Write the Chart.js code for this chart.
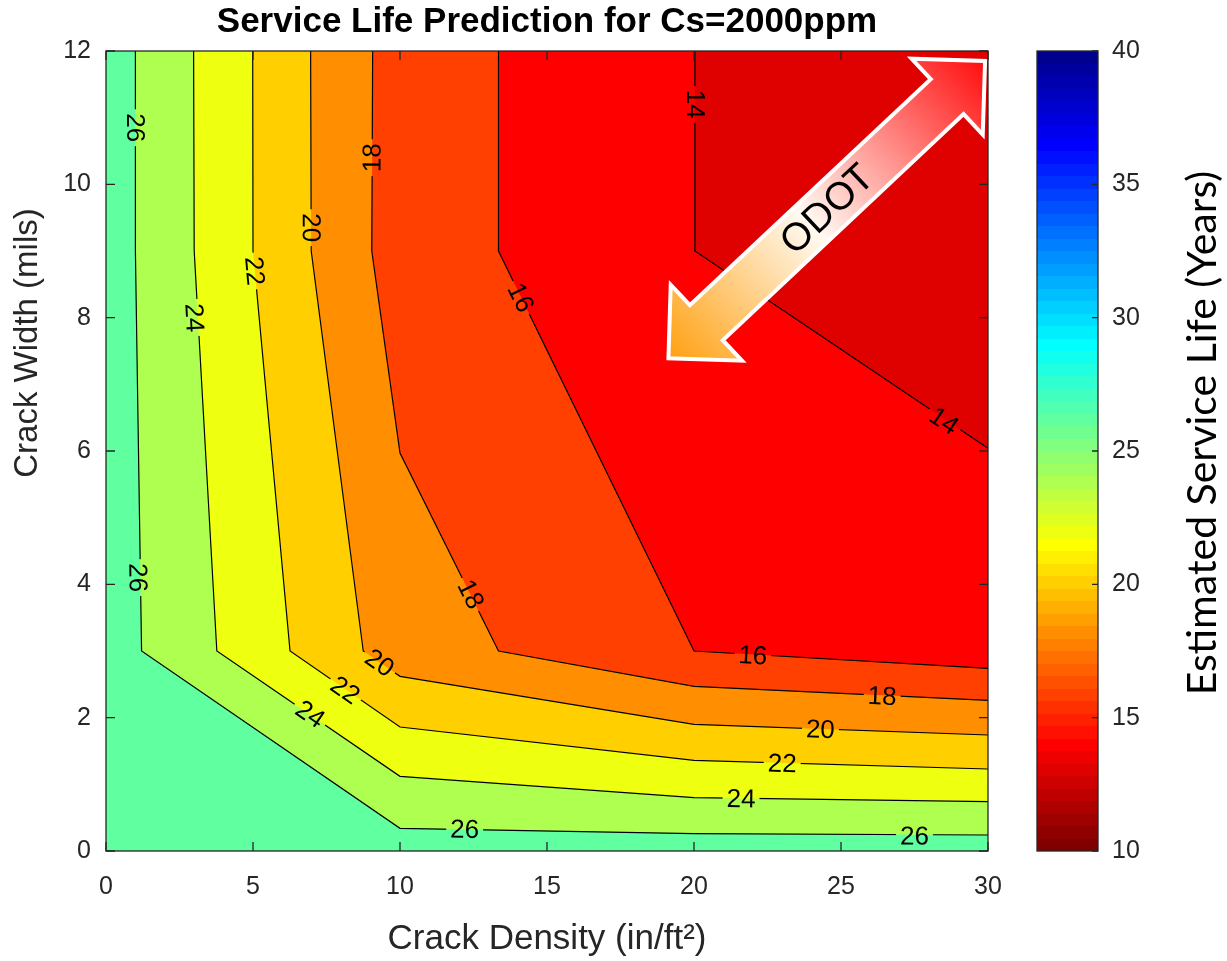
<!DOCTYPE html>
<html>
<head>
<meta charset="utf-8">
<script src="https://cdn.jsdelivr.net/npm/chart.js@4.4.1/dist/chart.umd.min.js"></script>
<style>
  body { margin: 0; background: #fff; }
  #main { position: absolute; left: 0; top: 0; }
  #cbar { position: absolute; left: 1010px; top: 0; }
</style>
</head>
<body>
<canvas id="main" width="1010" height="961"></canvas>
<canvas id="cbar" width="217" height="961"></canvas>
<script>
// contour levels (years) and the polylines, [crack density, crack width]
const levels = [26, 24, 22, 20, 18, 16, 14];
const lowestValue = 13;
const contour26 = [[1.0, 12], [1.0, 9], [1.21, 3], [10, 0.34], [20, 0.26], [30, 0.24]];
const contour24 = [[2.98, 12], [3.0, 9], [3.77, 3], [10, 1.12], [20, 0.80], [30, 0.74]];
const contour22 = [[4.99, 12], [5.0, 9], [6.26, 3], [10, 1.86], [20, 1.36], [30, 1.23]];
const contour20 = [[6.96, 12], [6.98, 9], [8.75, 3], [10, 2.62], [20, 1.90], [30, 1.74]];
const contour18 = [[9.07, 12], [9.04, 9], [10, 5.97], [13.35, 3], [20, 2.47], [30, 2.26]];
const contour16 = [[13.35, 12], [13.35, 9], [20, 3.0], [30, 2.74]];
const contour14 = [[20.03, 12], [20.03, 9], [30, 6.04]];
const contours = [contour26, contour24, contour22, contour20, contour18, contour16, contour14];

// inline contour labels: [level, x, y]
const contourLabels = [
  [26, 1.0, 10.85], [26, 1.08, 4.1], [26, 12.2, 0.32], [26, 27.5, 0.22],
  [24, 3.0, 8.0], [24, 6.94, 2.05], [24, 21.6, 0.78],
  [22, 5.05, 8.7], [22, 8.13, 2.41], [22, 23.0, 1.31],
  [20, 6.97, 9.35], [20, 9.3, 2.82], [20, 24.3, 1.82],
  [18, 9.06, 10.4], [18, 12.4, 3.85], [18, 26.4, 2.32],
  [16, 14.1, 8.3], [16, 22.0, 2.93],
  [14, 20.03, 11.2], [14, 28.5, 6.45]
];

const xMin = 0, xMax = 30, yMin = 0, yMax = 12;
const cbMin = 10, cbMax = 40;

// ODOT arrow end points in data units
const arrowTail = [19.13, 7.39];
const arrowHead = [29.9, 11.85];

const FAMILY = "'Liberation Sans', Arial, Helvetica, sans-serif";
const GREY = '#262626';
Chart.defaults.font.family = FAMILY;

// MATLAB jet(64), flipped so that low values are dark red
function u(j) { return j <= 16 ? j / 16 : (j <= 31 ? 1 : (48 - j) / 16); }
function jetRow(k) {
  const r = k >= 25 ? u(k - 24) : 0;
  const g = (k >= 9 && k <= 55) ? u(k - 8) : 0;
  const b = k <= 39 ? u(k + 8) : 0;
  return 'rgb(' + Math.round(r * 255) + ',' + Math.round(g * 255) + ',' + Math.round(b * 255) + ')';
}
function colorFor(v) {
  let idx = Math.floor((v - cbMin) / (cbMax - cbMin) * 64) + 1;
  idx = Math.max(1, Math.min(64, idx));
  return jetRow(65 - idx);
}

const toPts = arr => arr.map(p => ({x: p[0], y: p[1]}));

const lineSets = levels.map((lv, i) => ({
  label: 'contour ' + lv,
  isContour: true,
  data: toPts(contours[i]),
  borderColor: '#000',
  borderWidth: 1.2,
  pointRadius: 0,
  fill: false
}));
const fillSets = levels.map((lv, i) => ({
  label: 'below ' + lv,
  data: toPts(contours[i].concat([[xMax, yMax], contours[i][0]])),
  borderColor: 'rgba(0,0,0,0)',
  borderWidth: 0,
  pointRadius: 0,
  fill: 'shape',
  backgroundColor: colorFor(i + 1 < levels.length ? levels[i + 1] : lowestValue)
}));
const background = {
  label: 'above ' + levels[0],
  data: toPts([[xMin, yMin], [xMax, yMin], [xMax, yMax], [xMin, yMax], [xMin, yMin]]),
  borderColor: 'rgba(0,0,0,0)',
  borderWidth: 0,
  pointRadius: 0,
  fill: 'shape',
  backgroundColor: colorFor(levels[0])
};

const LABEL_FONT = '26px ' + FAMILY;

function segDist(px, py, a, b) {
  const dx = b[0] - a[0], dy = b[1] - a[1];
  const L2 = dx * dx + dy * dy;
  let t = L2 ? ((px - a[0]) * dx + (py - a[1]) * dy) / L2 : 0;
  t = Math.max(0, Math.min(1, t));
  return Math.hypot(px - (a[0] + t * dx), py - (a[1] + t * dy));
}

function labelGeometry(chart) {
  const xs = chart.scales.x, ys = chart.scales.y, ctx = chart.ctx;
  ctx.save();
  ctx.font = LABEL_FONT;
  const out = contourLabels.map(([lv, x, y]) => {
    const pts = contours[levels.indexOf(lv)].map(p => [xs.getPixelForValue(p[0]), ys.getPixelForValue(p[1])]);
    const px = xs.getPixelForValue(x), py = ys.getPixelForValue(y);
    let best = Infinity, ang = 0;
    for (let i = 0; i < pts.length - 1; i++) {
      const d = segDist(px, py, pts[i], pts[i + 1]);
      if (d < best) {
        best = d;
        ang = Math.atan2(pts[i + 1][1] - pts[i][1], pts[i + 1][0] - pts[i][0]);
      }
    }
    if (ang > Math.PI / 2 + 1e-9) ang -= Math.PI;
    else if (ang <= -Math.PI / 2) ang += Math.PI;
    return {text: String(lv), px, py, ang, w: ctx.measureText(String(lv)).width};
  });
  ctx.restore();
  return out;
}

function drawArrow(chart) {
  const xs = chart.scales.x, ys = chart.scales.y, ctx = chart.ctx;
  const x0 = xs.getPixelForValue(arrowTail[0]), y0 = ys.getPixelForValue(arrowTail[1]);
  const x1 = xs.getPixelForValue(arrowHead[0]), y1 = ys.getPixelForValue(arrowHead[1]);
  const L = Math.hypot(x1 - x0, y1 - y0), ang = Math.atan2(y1 - y0, x1 - x0);
  const h = 52, w = 52, s = 24;
  ctx.save();
  ctx.translate(x0, y0);
  ctx.rotate(ang);
  ctx.beginPath();
  ctx.moveTo(0, 0);
  ctx.lineTo(h, -w); ctx.lineTo(h, -s); ctx.lineTo(L - h, -s); ctx.lineTo(L - h, -w);
  ctx.lineTo(L, 0);
  ctx.lineTo(L - h, w); ctx.lineTo(L - h, s); ctx.lineTo(h, s); ctx.lineTo(h, w);
  ctx.closePath();
  const g = ctx.createLinearGradient(0, 0, L, 0);
  g.addColorStop(0, '#ffa010');
  g.addColorStop(0.45, '#fffaf2');
  g.addColorStop(1, '#ff0d0d');
  ctx.fillStyle = g;
  ctx.fill();
  ctx.lineWidth = 4;
  ctx.lineJoin = 'miter';
  ctx.strokeStyle = '#fff';
  ctx.stroke();
  ctx.font = '38px Lato, sans-serif';
  ctx.fillStyle = '#000';
  ctx.textAlign = 'center';
  ctx.textBaseline = 'middle';
  ctx.fillText('ODOT', L / 2, 0);
  ctx.restore();
}

const contourDecor = {
  id: 'contourDecor',
  beforeDatasetDraw(chart, args) {
    if (!chart.data.datasets[args.index].isContour) return;
    const ctx = chart.ctx;
    ctx.save();
    ctx.beginPath();
    ctx.rect(0, 0, chart.width, chart.height);
    labelGeometry(chart).forEach(l => {
      const c = Math.cos(l.ang), s = Math.sin(l.ang);
      const hw = l.w / 2 + 4, hh = 11;
      const pts = [[-hw, -hh], [hw, -hh], [hw, hh], [-hw, hh]].map(([a, b]) => [l.px + a * c - b * s, l.py + a * s + b * c]);
      ctx.moveTo(pts[0][0], pts[0][1]);
      for (let i = 1; i < 4; i++) ctx.lineTo(pts[i][0], pts[i][1]);
      ctx.closePath();
    });
    ctx.clip('evenodd');
  },
  afterDatasetDraw(chart, args) {
    if (chart.data.datasets[args.index].isContour) chart.ctx.restore();
  },
  afterDatasetsDraw(chart) {
    const ctx = chart.ctx, a = chart.chartArea;
    const xs = chart.scales.x, ys = chart.scales.y;
    // labels
    ctx.save();
    ctx.font = LABEL_FONT;
    ctx.fillStyle = '#000';
    ctx.textAlign = 'center';
    ctx.textBaseline = 'middle';
    labelGeometry(chart).forEach(l => {
      ctx.save();
      ctx.translate(l.px, l.py);
      ctx.rotate(l.ang);
      ctx.fillText(l.text, 0, 1);
      ctx.restore();
    });
    ctx.restore();
    // box and inward ticks
    ctx.save();
    ctx.strokeStyle = GREY;
    ctx.lineWidth = 1.3;
    ctx.strokeRect(a.left, a.top, a.right - a.left, a.bottom - a.top);
    ctx.beginPath();
    xs.ticks.forEach(t => {
      const p = xs.getPixelForValue(t.value);
      ctx.moveTo(p, a.bottom); ctx.lineTo(p, a.bottom - 9);
      ctx.moveTo(p, a.top); ctx.lineTo(p, a.top + 9);
    });
    ys.ticks.forEach(t => {
      const p = ys.getPixelForValue(t.value);
      ctx.moveTo(a.left, p); ctx.lineTo(a.left + 9, p);
      ctx.moveTo(a.right, p); ctx.lineTo(a.right - 9, p);
    });
    ctx.stroke();
    ctx.restore();
    // y axis label
    ctx.save();
    ctx.font = '33px ' + FAMILY;
    ctx.fillStyle = GREY;
    ctx.textAlign = 'center';
    ctx.textBaseline = 'middle';
    ctx.translate(28, 343);
    ctx.rotate(-Math.PI / 2);
    ctx.fillText('Crack Width (mils)', 0, 0);
    ctx.restore();
    drawArrow(chart);
  }
};

new Chart(document.getElementById('main'), {
  type: 'line',
  data: {datasets: [...lineSets, ...fillSets.slice().reverse(), background]},
  options: {
    responsive: false,
    animation: false,
    events: [],
    layout: {autoPadding: false, padding: {left: 0, right: 22, top: 0, bottom: 0}},
    plugins: {
      legend: {display: false},
      tooltip: {enabled: false},
      title: {
        display: true,
        text: 'Service Life Prediction for Cs=2000ppm',
        color: '#000',
        fullSize: false,
        font: {size: 35, weight: 'bold', lineHeight: 1},
        padding: {top: 5, bottom: 11}
      }
    },
    scales: {
      x: {
        type: 'linear', min: xMin, max: xMax,
        ticks: {stepSize: 5, padding: 21, color: GREY, font: {size: 25}, maxRotation: 0},
        grid: {display: false, drawTicks: false},
        border: {display: false},
        title: {display: true, text: 'Crack Density (in/ft²)', color: GREY, font: {size: 35}, padding: {top: 0, bottom: 1}},
        afterFit(s) { s.height = 110; s.paddingLeft = 0; s.paddingRight = 0; }
      },
      y: {
        type: 'linear', min: yMin, max: yMax,
        ticks: {stepSize: 2, padding: 15, color: GREY, font: {size: 25}},
        grid: {display: false, drawTicks: false},
        border: {display: false},
        afterFit(s) { s.width = 106; }
      }
    }
  },
  plugins: [contourDecor]
});

// colour bar
function barGradient(chart) {
  const a = chart.chartArea;
  if (!a) return colorFor(25);
  const g = chart.ctx.createLinearGradient(0, a.bottom, 0, a.top);
  for (let i = 0; i < 64; i++) {
    const c = jetRow(64 - i);
    g.addColorStop(i / 64, c);
    g.addColorStop(Math.min(1, (i + 1) / 64 - 1e-6), c);
  }
  return g;
}

const colorbarDecor = {
  id: 'colorbarDecor',
  afterDatasetsDraw(chart) {
    const ctx = chart.ctx, a = chart.chartArea, ys = chart.scales.y;
    ctx.save();
    ctx.strokeStyle = GREY;
    ctx.lineWidth = 1.3;
    ctx.strokeRect(a.left, a.top, a.right - a.left, a.bottom - a.top);
    ctx.beginPath();
    ys.ticks.forEach(t => {
      const p = ys.getPixelForValue(t.value);
      ctx.moveTo(a.right, p); ctx.lineTo(a.right - 6, p);
    });
    ctx.stroke();
    ctx.font = '41px Lato, sans-serif';
    ctx.fillStyle = '#000';
    ctx.textAlign = 'center';
    ctx.textBaseline = 'middle';
    ctx.translate(193, 433);
    ctx.rotate(-Math.PI / 2);
    ctx.fillText('Estimated Service Life (Years)', 0, 0);
    ctx.restore();
  }
};

new Chart(document.getElementById('cbar'), {
  type: 'bar',
  data: {
    labels: [''],
    datasets: [{
      data: [[cbMin, cbMax]],
      backgroundColor: c => barGradient(c.chart),
      borderWidth: 0,
      barPercentage: 1,
      categoryPercentage: 1
    }]
  },
  options: {
    responsive: false,
    animation: false,
    events: [],
    layout: {autoPadding: false, padding: {left: 27, right: 0, top: 51, bottom: 110}},
    plugins: {legend: {display: false}, tooltip: {enabled: false}},
    scales: {
      x: {display: false},
      y: {
        position: 'right', min: cbMin, max: cbMax,
        ticks: {stepSize: 5, padding: 14, color: GREY, font: {size: 25}},
        grid: {display: false, drawTicks: false},
        border: {display: false},
        afterFit(s) { s.width = 129; }
      }
    }
  },
  plugins: [colorbarDecor]
});
</script>
</body>
</html>
